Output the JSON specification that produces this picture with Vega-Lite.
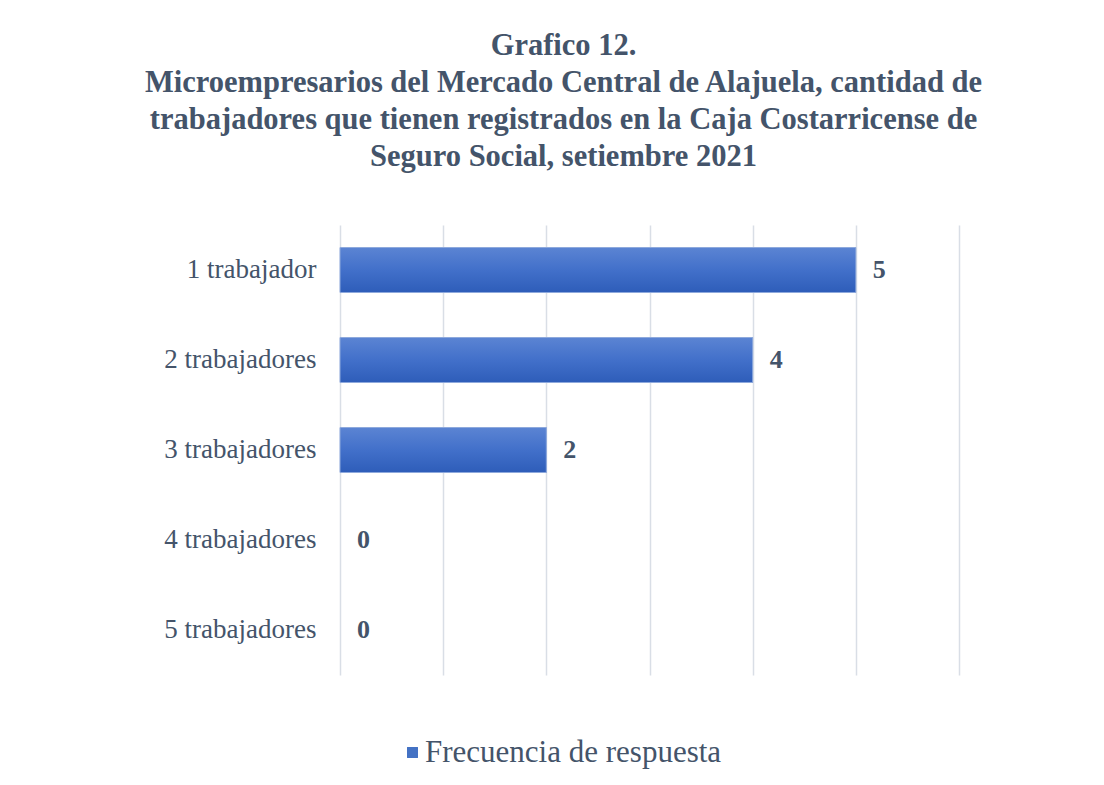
{
  "$schema": "https://vega.github.io/schema/vega-lite/v6.json",
  "autosize": {"type": "none"},
  "width": 619,
  "height": 450,
  "padding": {"left": 340, "top": 225, "right": 145, "bottom": 110},
  "background": "white",
  "config": {"view": {"stroke": null}},
  "title": {
    "text": ["Grafico 12.", "Microempresarios del Mercado Central de Alajuela, cantidad de", "trabajadores que tienen registrados en la Caja Costarricense de", "Seguro Social, setiembre 2021"],
    "anchor": "middle",
    "frame": "group",
    "dx": -86,
    "offset": 53,
    "font": "Liberation Serif",
    "fontSize": 30.5,
    "fontWeight": "bold",
    "color": "#44546A",
    "lineHeight": 37
  },
  "data": {
    "values": [
      {"categoria": "1 trabajador", "frecuencia": 5, "serie": "Frecuencia de respuesta"},
      {"categoria": "2 trabajadores", "frecuencia": 4, "serie": "Frecuencia de respuesta"},
      {"categoria": "3 trabajadores", "frecuencia": 2, "serie": "Frecuencia de respuesta"},
      {"categoria": "4 trabajadores", "frecuencia": 0, "serie": "Frecuencia de respuesta"},
      {"categoria": "5 trabajadores", "frecuencia": 0, "serie": "Frecuencia de respuesta"}
    ]
  },
  "encoding": {
    "y": {
      "field": "categoria",
      "type": "nominal",
      "sort": null,
      "scale": {"paddingInner": 0.5, "paddingOuter": 0.25},
      "axis": {
        "title": null,
        "domain": false,
        "ticks": false,
        "labelPadding": 24,
        "labelFont": "Liberation Serif",
        "labelFontSize": 27,
        "labelColor": "#44546A",
        "grid": false
      }
    },
    "x": {
      "field": "frecuencia",
      "type": "quantitative",
      "scale": {"domain": [0, 6], "nice": false},
      "axis": {
        "title": null,
        "labels": false,
        "ticks": false,
        "domain": false,
        "grid": true,
        "values": [0, 1, 2, 3, 4, 5, 6],
        "gridColor": "#D9DEE6",
        "gridWidth": 1.5
      }
    }
  },
  "layer": [
    {
      "mark": {"type": "bar"},
      "encoding": {
        "color": {
          "field": "serie",
          "type": "nominal",
          "scale": {"range": ["#4472C4"]},
          "legend": {
            "title": null,
            "orient": "none",
            "legendX": 57,
            "legendY": 512,
            "symbolType": "square",
            "symbolSize": 120,
            "symbolStrokeWidth": 0,
            "symbolOpacity": 1,
            "labelFont": "Liberation Serif",
            "labelFontSize": 31,
            "labelColor": "#44546A",
            "labelOffset": -3,
            "labelLimit": 500
          }
        }
      }
    },
    {
      "transform": [{"filter": "datum.frecuencia > 0"}],
      "mark": {
        "type": "bar",
        "fill": {
          "gradient": "linear",
          "x1": 0, "y1": 0, "x2": 0, "y2": 1,
          "stops": [
            {"offset": 0, "color": "#5B84D3"},
            {"offset": 0.5, "color": "#4270CA"},
            {"offset": 1, "color": "#2E5DB9"}
          ]
        },
        "stroke": "#8EA9DC",
        "strokeWidth": 1
      }
    },
    {
      "mark": {
        "type": "text",
        "align": "left",
        "baseline": "middle",
        "dx": 17,
        "font": "Liberation Serif",
        "fontSize": 26,
        "fontWeight": "bold",
        "color": "#44546A"
      },
      "encoding": {
        "text": {"field": "frecuencia", "type": "quantitative"}
      }
    }
  ]
}
